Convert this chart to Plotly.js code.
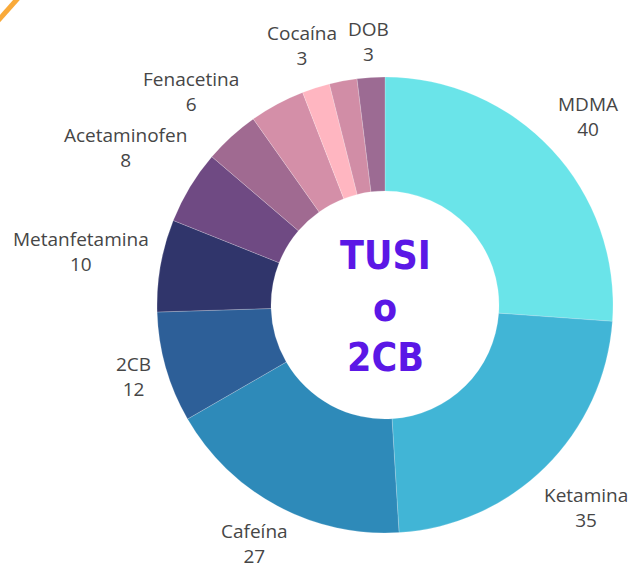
<!DOCTYPE html>
<html>
<head>
<meta charset="utf-8">
<script src="https://cdn.plot.ly/plotly-3.0.1.min.js"></script>
<style>html,body{margin:0;padding:0;background:#fff;}#chart{width:638px;height:569px;}</style>
</head>
<body>
<div id="chart"></div>
<script>
const labels = ["MDMA", "Ketamina", "Cafeína", "2CB", "Metanfetamina", "Acetaminofen", "Fenacetina", "Otro A", "Cocaína", "Otro B", "DOB"];
const values = [40, 35, 27, 12, 10, 8, 6, 6, 3, 3, 3];
const showLabel = [true, true, true, true, true, true, true, false, true, false, true];
const colors = ["#6ae4e9", "#41b5d6", "#2e8ab9", "#2d5f98", "#30356b", "#6f4a83", "#a06a91", "#d48fa8", "#ffb6c1", "#d18da6", "#9c6b93"];
const centerLines = ["TUSI", "o", "2CB"];

const W = 638, H = 569;
const cx = 385, cy = 305, R = 228;
const labelGap = 238;       // radius where the nearest corner of each label box sits
const fs = 19;
const lineH = 1.3 * fs;

const trace = {
  type: "pie",
  labels: labels,
  values: values,
  sort: false,
  direction: "clockwise",
  rotation: 0,
  hole: 0.5,
  marker: {colors: colors, line: {color: "rgba(255,255,255,0.4)", width: 0.5}},
  textinfo: "none",
  hoverinfo: "label+value",
  domain: {x: [(cx - R) / W, (cx + R) / W], y: [(H - cy - R) / H, (H - cy + R) / H]}
};

// outside labels positioned along each slice's mid-angle
const ctx = document.createElement("canvas").getContext("2d");
ctx.font = fs + "px 'Open Sans'";
const total = values.reduce((a, b) => a + b, 0);
const annotations = [];
let cum = 0;
values.forEach((v, i) => {
  const mid = (cum + v / 2) / total * 2 * Math.PI;
  cum += v;
  if (!showLabel[i]) return;
  const ux = Math.sin(mid), uy = -Math.cos(mid);
  const w = Math.max(ctx.measureText(labels[i]).width, ctx.measureText(String(v)).width);
  const a = w / 2, b = lineH;
  const d = labelGap + Math.abs(ux) * a + Math.abs(uy) * b;
  const px = cx + ux * d, py = Math.min(cy + uy * d, H - lineH - 1);
  annotations.push({
    x: px / W, y: (H - py) / H, xref: "paper", yref: "paper",
    text: labels[i] + "<br>" + v, showarrow: false,
    xanchor: "center", yanchor: "middle", align: "center",
    font: {family: "Open Sans", size: fs, color: "#464646"}
  });
});

const centerY = [256, 307, 357];
centerLines.forEach((t, i) => {
  annotations.push({
    x: cx / W, y: (H - centerY[i]) / H, xref: "paper", yref: "paper",
    text: t, showarrow: false, xanchor: "center", yanchor: "middle", borderpad: 0,
    font: {family: "DejaVu Sans Condensed, DejaVu Sans", size: 39, color: "#5b17e6", weight: "bold"}
  });
});

const layout = {
  width: W, height: H,
  margin: {l: 0, r: 0, t: 0, b: 0},
  showlegend: false,
  paper_bgcolor: "#ffffff",
  annotations: annotations,
  shapes: [{
    type: "line", xref: "paper", yref: "paper",
    x0: -5 / W, y0: (H - 24) / H, x1: 20 / W, y1: (H + 4) / H,
    line: {color: "#f9aa3a", width: 5}
  }]
};

Plotly.newPlot("chart", [trace], layout, {displayModeBar: false});
</script>
</body>
</html>
